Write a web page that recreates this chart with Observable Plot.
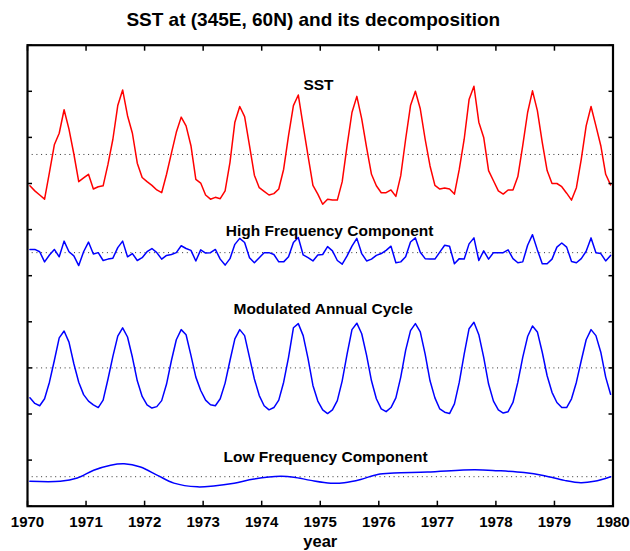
<!DOCTYPE html>
<html>
<head>
<meta charset="utf-8">
<script src="https://cdn.jsdelivr.net/npm/d3@7"></script>
<script src="https://cdn.jsdelivr.net/npm/@observablehq/plot@0.6"></script>
<style>
  body { margin: 0; background: #fff; }
  svg { display: block; }
</style>
</head>
<body>
<div id="chart"></div>
<script>
// Monthly SST at (345E, 60N), 1970-1979, and its three components,
// each already stacked at its own level on a shared vertical axis.
const yearTicks = [1970, 1971, 1972, 1973, 1974, 1975, 1976, 1977, 1978, 1979, 1980];
const levelTicks = [0, 1, 2, 3, 4, 5, 6, 7, 8, 9, 10];

const sst = [
  6.95, 6.84, 6.75, 6.66, 7.24, 7.84, 8.09, 8.60, 8.18, 7.64, 7.04, 7.12,
  7.20, 6.88, 6.93, 6.95, 7.42, 7.96, 8.69, 9.03, 8.47, 8.09, 7.44, 7.13,
  7.04, 6.96, 6.86, 6.80, 7.20, 7.66, 8.11, 8.44, 8.25, 7.82, 7.09, 7.01,
  6.75, 6.66, 6.70, 6.67, 6.84, 7.46, 8.33, 8.67, 8.45, 7.82, 7.18, 6.91,
  6.83, 6.75, 6.78, 6.88, 7.31, 8.04, 8.69, 8.92, 8.25, 7.60, 6.96, 6.77,
  6.55, 6.66, 6.64, 6.64, 7.04, 7.82, 8.54, 8.89, 8.40, 7.78, 7.20, 6.95,
  6.80, 6.80, 6.86, 6.72, 7.17, 7.96, 8.69, 9.00, 8.62, 7.96, 7.38, 6.96,
  6.88, 6.90, 6.88, 6.77, 7.31, 7.96, 8.82, 9.11, 8.33, 8.00, 7.28, 7.06,
  6.84, 6.77, 6.86, 6.86, 7.15, 7.82, 8.54, 9.01, 8.58, 7.89, 7.28, 7.00,
  7.00, 6.93, 6.79, 6.64, 6.91, 7.53, 8.25, 8.67, 8.25, 7.82, 7.20, 6.97
];

const highFreq = [
  5.57, 5.57, 5.52, 5.30, 5.45, 5.57, 5.41, 5.75, 5.52, 5.43, 5.22, 5.52,
  5.73, 5.47, 5.50, 5.33, 5.36, 5.38, 5.61, 5.75, 5.41, 5.48, 5.33, 5.39,
  5.52, 5.59, 5.50, 5.36, 5.44, 5.46, 5.50, 5.65, 5.59, 5.55, 5.32, 5.56,
  5.49, 5.50, 5.57, 5.36, 5.23, 5.37, 5.68, 5.81, 5.72, 5.39, 5.28, 5.39,
  5.50, 5.50, 5.46, 5.30, 5.30, 5.41, 5.72, 5.83, 5.45, 5.39, 5.32, 5.45,
  5.46, 5.63, 5.54, 5.33, 5.25, 5.43, 5.64, 5.81, 5.48, 5.32, 5.36, 5.44,
  5.48, 5.55, 5.64, 5.28, 5.30, 5.41, 5.73, 5.82, 5.51, 5.37, 5.36, 5.36,
  5.51, 5.66, 5.64, 5.26, 5.37, 5.36, 5.69, 5.82, 5.33, 5.54, 5.36, 5.50,
  5.50, 5.50, 5.56, 5.37, 5.28, 5.30, 5.66, 5.89, 5.56, 5.26, 5.26, 5.36,
  5.62, 5.71, 5.62, 5.31, 5.28, 5.37, 5.53, 5.82, 5.50, 5.48, 5.32, 5.44
];

const annualCycle = [
  2.35, 2.23, 2.18, 2.33, 2.69, 3.16, 3.65, 3.80, 3.56, 3.09, 2.69, 2.42,
  2.28, 2.20, 2.14, 2.30, 2.76, 3.25, 3.69, 3.87, 3.67, 3.23, 2.72, 2.38,
  2.20, 2.13, 2.16, 2.29, 2.65, 3.16, 3.61, 3.83, 3.72, 3.27, 2.80, 2.51,
  2.30, 2.20, 2.18, 2.33, 2.67, 3.16, 3.63, 3.83, 3.70, 3.23, 2.76, 2.40,
  2.18, 2.09, 2.14, 2.30, 2.69, 3.23, 3.87, 3.96, 3.70, 3.20, 2.62, 2.28,
  2.09, 2.01, 2.09, 2.29, 2.72, 3.30, 3.83, 3.97, 3.74, 3.27, 2.72, 2.33,
  2.11, 2.05, 2.14, 2.35, 2.80, 3.38, 3.81, 3.96, 3.78, 3.30, 2.72, 2.35,
  2.11, 2.04, 2.01, 2.22, 2.69, 3.30, 3.85, 3.99, 3.72, 3.23, 2.65, 2.28,
  2.09, 2.02, 2.05, 2.25, 2.69, 3.23, 3.68, 3.91, 3.78, 3.34, 2.83, 2.47,
  2.25, 2.14, 2.14, 2.33, 2.69, 3.16, 3.61, 3.83, 3.70, 3.34, 2.80, 2.43
];

// The low-frequency part is smooth, so it is kept at fewer, irregular times.
const lowFreqYears = [
  1970.04, 1970.56, 1970.85, 1971.13, 1971.42, 1971.65, 1971.93, 1972.22,
  1972.50, 1972.90, 1973.18, 1973.53, 1973.87, 1974.32, 1974.55, 1974.84,
  1975.18, 1975.41, 1975.69, 1975.98, 1976.26, 1976.83, 1977.63, 1978.03,
  1978.48, 1978.83, 1979.17, 1979.45, 1979.68, 1979.96
];
const lowFreq = [
  0.54, 0.54, 0.61, 0.78, 0.89, 0.92, 0.85, 0.67,
  0.50, 0.42, 0.44, 0.50, 0.59, 0.65, 0.63, 0.56,
  0.50, 0.51, 0.58, 0.69, 0.72, 0.74, 0.79, 0.77,
  0.73, 0.66, 0.56, 0.51, 0.54, 0.64
];

// Mean level of each stacked series (dotted reference lines).
const meanLevels = [7.63, 5.5, 3.0, 0.64];

const seriesNames = ["SST", "High Frequency Component", "Modulated Annual Cycle", "Low Frequency Component"];
const titleText = "SST at (345E, 60N) and its decomposition";
const xLabel = "year";

// Values are monthly means, placed at mid-month.
const monthly = values => values.map((v, i) => ({t: 1970 + (i + 0.5) / 12, v}));
const lowRows = lowFreq.map((v, i) => ({t: lowFreqYears[i], v}));

const font = '"Liberation Sans", Arial, Helvetica, sans-serif';
const noText = () => "";

const chart = Plot.plot({
  width: 630,
  height: 551,
  marginLeft: 27,
  marginRight: 17.5,
  marginTop: 44.7,
  marginBottom: 45.3,
  style: {fontFamily: font, fontWeight: "bold", background: "#fff", color: "#000"},
  x: {domain: [1970, 1980]},
  y: {domain: [0, 10]},
  marks: [
    Plot.ruleY(meanLevels, {stroke: "#333", strokeWidth: 1, strokeDasharray: "1,3.7"}),
    Plot.line(monthly(sst), {x: "t", y: "v", stroke: "#ff0000", strokeWidth: 1.5}),
    Plot.line(monthly(highFreq), {x: "t", y: "v", stroke: "#0000ff", strokeWidth: 1.5}),
    Plot.line(monthly(annualCycle), {x: "t", y: "v", stroke: "#0000ff", strokeWidth: 1.5}),
    Plot.line(lowRows, {x: "t", y: "v", stroke: "#0000ff", strokeWidth: 1.5, curve: "catmull-rom"}),
    Plot.axisX({anchor: "bottom", ticks: yearTicks, tickFormat: "d", tickSize: -5, tickPadding: 15,
      fontSize: 15, strokeWidth: 1.5, label: null}),
    Plot.axisX({anchor: "top", ticks: yearTicks, tickFormat: noText, tickSize: -5, strokeWidth: 1.5, label: null}),
    Plot.axisY({anchor: "left", ticks: levelTicks, tickFormat: noText, tickSize: -5, strokeWidth: 1.5, label: null}),
    Plot.axisY({anchor: "right", ticks: levelTicks, tickFormat: noText, tickSize: -5, strokeWidth: 1.5, label: null}),
    Plot.frame({stroke: "#000", strokeWidth: 2.2}),
    Plot.text(seriesNames, {
      x: [1974.97, 1975.16, 1975.05, 1975.09],
      y: [9.14, 5.96, 4.27, 1.07],
      text: d => d, fontSize: 15.5, fontWeight: "bold", fill: "#000", lineAnchor: "middle"
    }),
    Plot.text([titleText], {frameAnchor: "top", dx: -7, dy: -25.2, text: d => d,
      fontSize: 19, fontWeight: "bold", fill: "#000", lineAnchor: "middle"}),
    Plot.text([xLabel], {frameAnchor: "bottom", dy: 35.5, text: d => d,
      fontSize: 16.5, fontWeight: "bold", fill: "#000", lineAnchor: "middle"})
  ]
});

document.getElementById("chart").appendChild(chart);
</script>
</body>
</html>
